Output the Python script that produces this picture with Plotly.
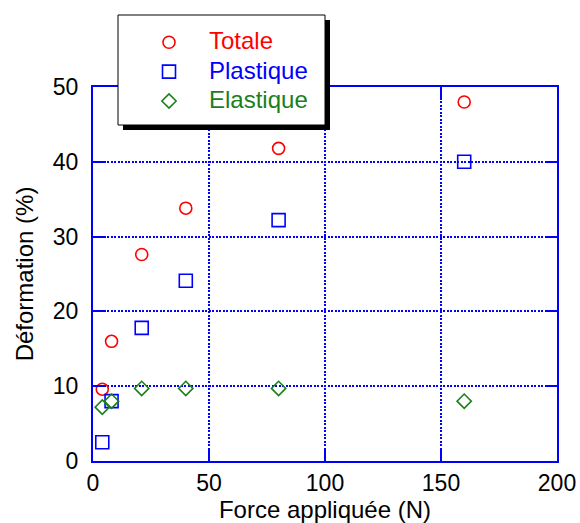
import plotly.graph_objects as go

force = [4, 8, 21, 40, 80, 160]
totale = [9.6, 16.0, 27.6, 33.8, 41.8, 48.0]
plastique = [2.5, 8.0, 17.8, 24.1, 32.2, 40.0]
elastique = [7.2, 8.0, 9.7, 9.7, 9.7, 8.0]

x_ticks = [0, 50, 100, 150, 200]
y_ticks = [0, 10, 20, 30, 40, 50]

RED = "#ff0000"
BLUE = "#0000ff"
GREEN = "#1a801a"
FONT = "Liberation Sans, Arial, sans-serif"

fig = go.Figure()
series = [
    ("Totale", totale, "circle-open", RED, 12),
    ("Plastique", plastique, "square-open", BLUE, 13),
    ("Elastique", elastique, "diamond-open", GREEN, 11),
]
for i, (name, vals, sym, col, sz) in enumerate(series):
    fig.add_trace(go.Scatter(
        x=force, y=vals, mode="markers",
        name=f"<span style='color:{col};font-size:24px'>\u00a0\u00a0\u00a0{name}</span>",
        legendgroup=f"g{i}",
        marker=dict(symbol=sym, color=col, size=sz, line=dict(width=1.6, color=col)),
        cliponaxis=False,
    ))

axis_common = dict(
    showline=True, linecolor=BLUE, linewidth=2, mirror="ticks",
    ticks="inside", ticklen=12, tickwidth=2, tickcolor=BLUE,
    showgrid=True, gridcolor=BLUE, gridwidth=1.5, griddash="2px,1.5px",
    zeroline=False, automargin=False,
    tickfont=dict(family=FONT, size=23, color="black"),
    title_font=dict(family=FONT, size=24, color="black"),
)
fig.update_xaxes(range=[0, 200], tickvals=x_ticks,
                 title_text="Force appliquée (N)", title_standoff=6, **axis_common)
fig.update_yaxes(range=[0, 50], tickvals=y_ticks, ticklabelstandoff=8,
                 title_text="Déformation (%)", title_standoff=12, **axis_common)

PX0, PY0, PW, PH = 93, 461, 464, 374
# legend shadow and frame
fig.add_shape(type="rect", xref="paper", yref="paper",
              x0=(123 - PX0) / PW, x1=(330 - PX0) / PW,
              y0=(PY0 - 130) / PH, y1=(PY0 - 20) / PH,
              fillcolor="black", line=dict(width=0), layer="above")
fig.add_shape(type="rect", xref="paper", yref="paper",
              x0=(118 - PX0) / PW, x1=(325 - PX0) / PW,
              y0=(PY0 - 125) / PH, y1=(PY0 - 15) / PH,
              fillcolor="white", line=dict(width=1, color="black"), layer="above")

fig.update_layout(
    width=580, height=523,
    margin=dict(l=93, r=23, t=87, b=62, autoexpand=False),
    paper_bgcolor="white", plot_bgcolor="white",
    font=dict(family=FONT, size=23, color="black"),
    legend=dict(
        x=(118 - PX0) / PW, y=(PY0 - 24) / PH,
        xanchor="left", yanchor="top",
        bgcolor="rgba(0,0,0,0)", borderwidth=0,
        font=dict(family=FONT, size=18),
        traceorder="grouped", tracegroupgap=3,
        indentation=31,
    ),
)

fig.write_html("out.html", config={"displayModeBar": False},
               post_script="document.body.style.margin='0';")
